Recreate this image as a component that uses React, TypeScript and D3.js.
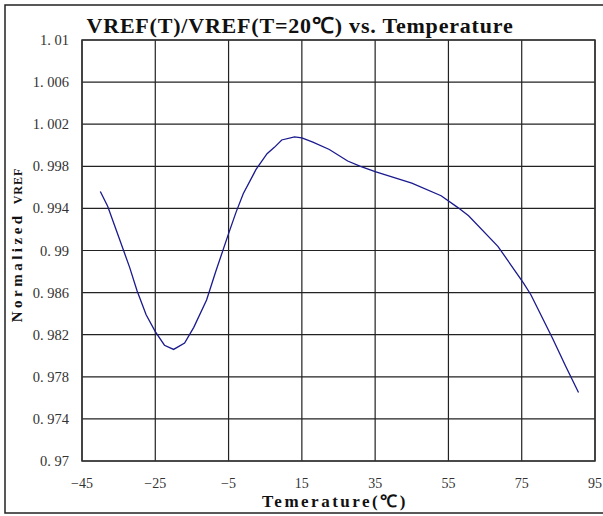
import { useEffect, useRef } from 'react';
import * as d3 from 'd3';

const temps = [-40, -38, -35, -32, -30, -27.5, -25, -22.5, -20, -17, -14.5, -11, -8.5, -5, -3, -1, 2.5, 5.5, 7.5, 9.5, 13, 15, 18, 22.5, 27.5, 31, 35, 45, 53, 57.5, 60.5, 68.5, 75.5, 77.5, 83.5, 87, 90.5];
const vref = [0.9956, 0.9942, 0.9913, 0.9884, 0.9862, 0.9839, 0.9823, 0.981, 0.9806, 0.9812, 0.9827, 0.9853, 0.988, 0.9916, 0.9936, 0.9954, 0.9977, 0.9992, 0.9998, 1.0005, 1.0008, 1.0007, 1.0003, 0.9996, 0.9985, 0.998, 0.9975, 0.9964, 0.9952, 0.9941, 0.9933, 0.9904, 0.9869, 0.9858, 0.9816, 0.979, 0.9765];
const xTicks = [-45, -25, -5, 15, 35, 55, 75, 95];
const yTicks = [0.97, 0.974, 0.978, 0.982, 0.986, 0.99, 0.994, 0.998, 1.002, 1.006, 1.01];

const W = 603;
const H = 516;

export default function App() {
  const svgRef = useRef<SVGSVGElement>(null);

  useEffect(() => {
    if (!svgRef.current) return;
    const svg = d3.select(svgRef.current);
    svg.selectAll('*').remove();

    const left = 82, right = 595, top = 40, bottom = 461;
    const x = d3.scaleLinear().domain([-45, 95]).range([left, right]);
    const y = d3.scaleLinear().domain([0.97, 1.01]).range([bottom, top]);

    svg.append('rect').attr('width', W).attr('height', H).attr('fill', '#fff');

    // outer frame (right side runs past the window)
    svg.append('rect')
      .attr('x', 5).attr('y', 5).attr('width', 610).attr('height', 508)
      .attr('fill', 'none').attr('stroke', '#222').attr('stroke-width', 1.5);

    // grid
    const grid = svg.append('g').attr('stroke', '#222').attr('stroke-width', 1.2);
    grid.selectAll('line.h').data(yTicks).enter().append('line')
      .attr('x1', left).attr('x2', right)
      .attr('y1', d => y(d)).attr('y2', d => y(d));
    grid.selectAll('line.v').data(xTicks).enter().append('line')
      .attr('y1', top).attr('y2', bottom)
      .attr('x1', d => x(d)).attr('x2', d => x(d));

    svg.append('rect')
      .attr('x', left).attr('y', top).attr('width', right - left).attr('height', bottom - top)
      .attr('fill', 'none').attr('stroke', '#333').attr('stroke-width', 1.5);

    // tick labels
    const tickFont = '"Liberation Serif", serif';
    svg.append('g').selectAll('text').data(yTicks).enter().append('text')
      .attr('x', 69).attr('y', d => y(d) + 5)
      .attr('text-anchor', 'end')
      .attr('font-family', tickFont).attr('font-size', 14.5).attr('fill', '#333')
      .text(d => String(+d.toFixed(3)).replace('.', '. '));
    svg.append('g').selectAll('text').data(xTicks).enter().append('text')
      .attr('x', d => x(d)).attr('y', 488)
      .attr('text-anchor', 'middle')
      .attr('font-family', tickFont).attr('font-size', 14).attr('fill', '#333')
      .text(d => (d < 0 ? '\u2212' + Math.abs(d) : String(d)));

    // data line
    const pts = temps.map((t, i) => [t, vref[i]] as [number, number]);
    svg.append('path')
      .datum(pts)
      .attr('fill', 'none')
      .attr('stroke', '#1a1a8e')
      .attr('stroke-width', 1.3)
      .attr('d', d3.line<[number, number]>().x(d => x(d[0])).y(d => y(d[1])));

    // titles
    svg.append('text')
      .attr('x', 300).attr('y', 33)
      .attr('text-anchor', 'middle')
      .attr('font-family', tickFont).attr('font-weight', 'bold').attr('font-size', 22)
      .attr('letter-spacing', 0.8).attr('fill', '#111')
      .text('VREF(T)/VREF(T=20℃)  vs.  Temperature');

    svg.append('text')
      .attr('x', 335).attr('y', 507)
      .attr('text-anchor', 'middle')
      .attr('font-family', tickFont).attr('font-weight', 'bold').attr('font-size', 17)
      .attr('letter-spacing', 2.5).attr('fill', '#111')
      .text('Temerature(℃)');

    const yl = svg.append('text')
      .attr('transform', 'translate(22,245) rotate(-90)')
      .attr('text-anchor', 'middle')
      .attr('font-family', tickFont).attr('font-weight', 'bold')
      .attr('fill', '#111');
    yl.append('tspan').attr('font-size', 15).attr('letter-spacing', 3.5).text('Normalized');
    yl.append('tspan').attr('font-size', 12).attr('letter-spacing', 1).attr('dx', 8).text('VREF');
  }, []);

  return <svg ref={svgRef} width={W} height={H} style={{ position: 'absolute', left: 0, top: 0 }} />;
}
